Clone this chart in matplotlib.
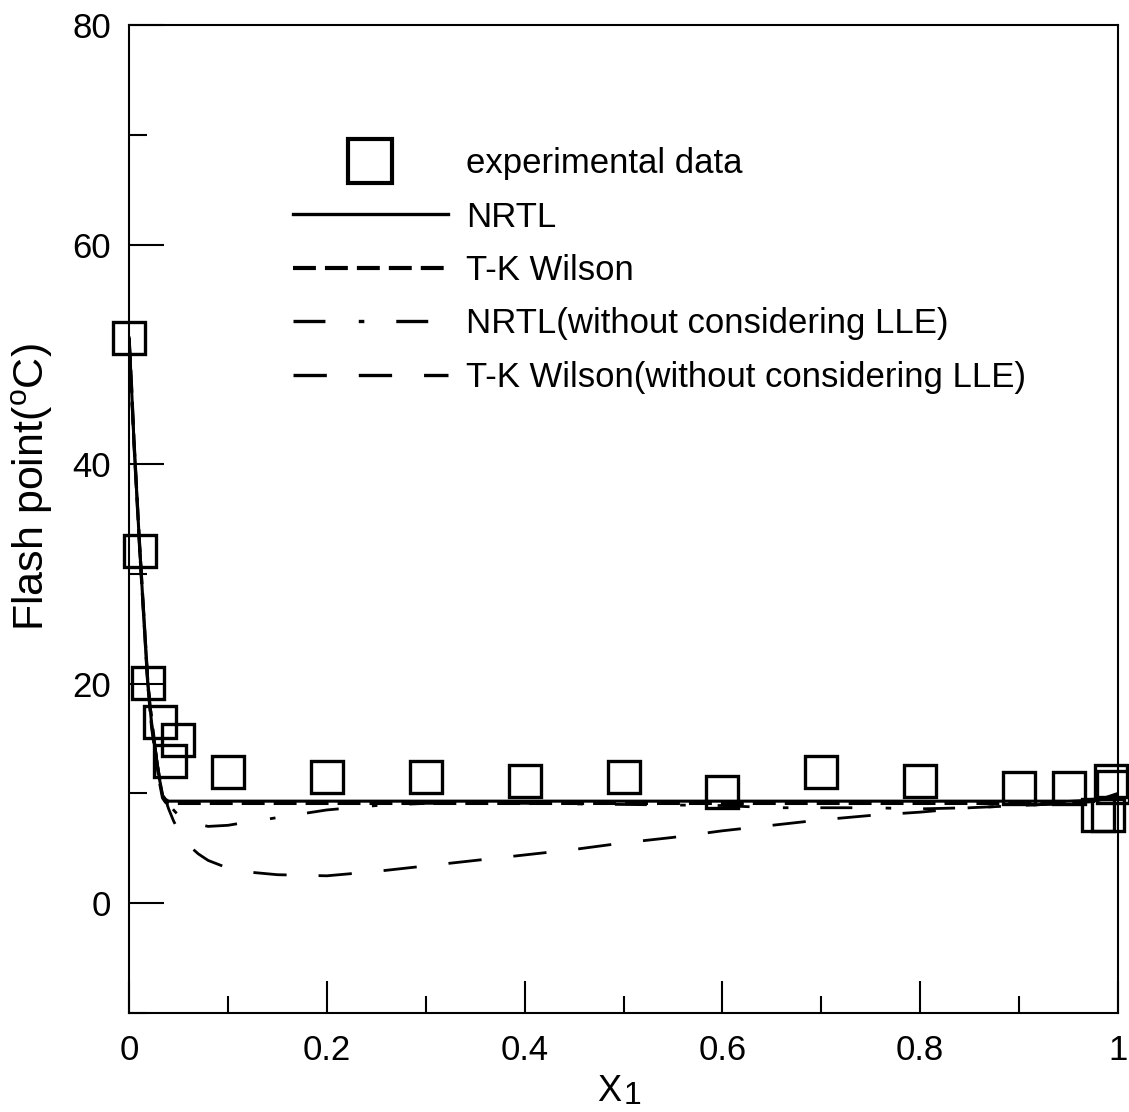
import matplotlib
matplotlib.use("Agg")
import matplotlib.pyplot as plt
from matplotlib.lines import Line2D
from matplotlib.ticker import MultipleLocator

plt.rcParams['font.family'] = ['Liberation Sans', 'DejaVu Sans']
plt.rcParams['mathtext.default'] = 'regular'
plt.rcParams['lines.scale_dashes'] = False

# experimental flash points
x_exp = [0.0, 0.011, 0.019, 0.031, 0.041, 0.05, 0.1, 0.2, 0.3, 0.4, 0.5,
         0.6, 0.7, 0.8, 0.9, 0.95, 0.98, 0.99, 0.993, 0.995]
y_exp = [51.5, 32.1, 20.1, 16.5, 13.0, 14.9, 12.0, 11.5, 11.5, 11.1, 11.5,
         10.1, 12.0, 11.1, 10.5, 10.5, 8.0, 8.0, 11.1, 10.6]

# model curves
x_nrtl = [0, 0.0025, 0.005, 0.008, 0.011, 0.015, 0.019, 0.023, 0.028, 0.031,
          0.034, 0.037, 0.04, 0.1, 0.2, 0.3, 0.4, 0.5, 0.6, 0.7, 0.8, 0.9,
          0.95, 0.98, 1.0]
y_nrtl = [51.5, 47, 42, 37, 32, 26, 20, 16.2, 13.0, 11.2, 9.8, 9.45, 9.3,
          9.3, 9.3, 9.3, 9.3, 9.3, 9.3, 9.3, 9.3, 9.3, 9.3, 9.4, 10.0]

x_tkw = [0, 0.0025, 0.005, 0.008, 0.011, 0.015, 0.019, 0.023, 0.028, 0.031,
         0.034, 0.037, 0.041, 0.1, 0.2, 0.3, 0.4, 0.5, 0.6, 0.7, 0.8, 0.9,
         0.95, 0.98, 1.0]
y_tkw = [51.5, 47, 42, 37, 32, 26, 20, 16.0, 12.8, 11.0, 9.6, 9.2, 9.1,
         9.1, 9.1, 9.1, 9.1, 9.1, 9.1, 9.1, 9.1, 9.1, 9.15, 9.3, 9.8]

x_nrtl_nolle = [0, 0.005, 0.011, 0.019, 0.028, 0.034, 0.04, 0.045, 0.05, 0.06,
                0.08, 0.1, 0.12, 0.15, 0.2, 0.25, 0.3, 0.4, 0.5, 0.6, 0.65,
                0.7, 0.75, 0.8, 0.85, 0.9, 0.95, 1.0]
y_nrtl_nolle = [51.5, 42, 32, 20, 13.0, 9.8, 9.0, 8.5, 8.0, 7.4,
                7.0, 7.1, 7.4, 7.8, 8.5, 8.9, 9.1, 9.1, 9.0, 8.9, 8.7,
                8.7, 8.7, 8.6, 8.7, 8.9, 9.1, 9.6]

x_tkw_nolle = [0, 0.005, 0.011, 0.019, 0.028, 0.034, 0.037, 0.04, 0.045, 0.05,
               0.06, 0.07, 0.08, 0.1, 0.12, 0.15, 0.2, 0.25, 0.3, 0.35, 0.4,
               0.45, 0.5, 0.55, 0.6, 0.65, 0.7, 0.75, 0.8, 0.85, 0.9, 0.95, 1.0]
y_tkw_nolle = [51.5, 42, 32, 20, 13.0, 9.8, 9.4, 8.6, 7.5, 6.6,
               5.3, 4.5, 3.9, 3.2, 2.85, 2.6, 2.5, 2.9, 3.4, 3.9, 4.4,
               4.9, 5.5, 6.0, 6.6, 7.1, 7.6, 8.0, 8.3, 8.7, 8.9, 9.1, 9.6]

labels = ['experimental data', 'NRTL', 'T-K Wilson',
          'NRTL(without considering LLE)', 'T-K Wilson(without considering LLE)']

fig = plt.figure(figsize=(11.29, 11.12), dpi=100)
ax = fig.add_axes([0.1143, 0.0890, 0.8760, 0.8885])

ls_solid = '-'
ls_short = (0, (16.5, 6.5))
ls_dashdot = (0, (23, 24, 4, 23))
ls_long = (0, (24, 23))

ax.plot(x_nrtl, y_nrtl, color='k', lw=2.2, ls=ls_solid)
ax.plot(x_tkw, y_tkw, color='k', lw=2.4, ls=ls_short)
ax.plot(x_nrtl_nolle, y_nrtl_nolle, color='k', lw=2.0, ls=ls_dashdot)
ax.plot(x_tkw_nolle, y_tkw_nolle, color='k', lw=2.0, ls=ls_long)
ax.plot(x_exp, y_exp, ls='none', marker='s', ms=23.5, mfc='none',
        mec='k', mew=2.4, clip_on=False)

ax.set_xlim(0, 1)
ax.set_ylim(-10, 80)
ax.xaxis.set_minor_locator(MultipleLocator(0.1))
ax.yaxis.set_major_locator(MultipleLocator(20))
ax.yaxis.set_minor_locator(MultipleLocator(10))
ax.set_xticks([0, 0.2, 0.4, 0.6, 0.8, 1.0])
ax.set_xticklabels(['0', '0.2', '0.4', '0.6', '0.8', '1'])

for s in ax.spines.values():
    s.set_linewidth(1.5)
ax.tick_params(which='both', direction='in', width=1.5, labelsize=25,
               top=False, right=False)
ax.tick_params(axis='y', which='major', length=25, pad=13)
ax.tick_params(axis='y', which='minor', length=13)
ax.tick_params(axis='x', which='major', length=23, pad=15)
ax.tick_params(axis='x', which='minor', length=12)

ax.set_ylabel('Flash point($^{o}$C)', fontsize=31)
ax.yaxis.set_label_coords(-0.075, 0.532)

xl = ax.set_xlabel('X', fontsize=26, fontweight='light')
ax.xaxis.set_label_coords(0.486, -0.062)
ax.annotate('1', xy=(1, 0), xycoords=xl, xytext=(1, -1),
            textcoords='offset points', ha='left', va='bottom',
            fontsize=23, fontweight='light')

handles = [
    Line2D([], [], ls='none', marker='s', ms=32, mfc='none', mec='k', mew=3),
    Line2D([], [], color='k', lw=2.4, ls=ls_solid),
    Line2D([], [], color='k', lw=3.0, ls=ls_short),
    Line2D([], [], color='k', lw=2.4, ls=ls_dashdot),
    Line2D([], [], color='k', lw=2.4, ls=ls_long),
]
ax.legend(handles, labels, loc='upper left', bbox_to_anchor=(0.1658, 0.8765),
          frameon=False, fontsize=25, handlelength=4.46, handletextpad=0.52,
          labelspacing=0.59, borderpad=0, borderaxespad=0)

fig.savefig('out.png', dpi=100)
